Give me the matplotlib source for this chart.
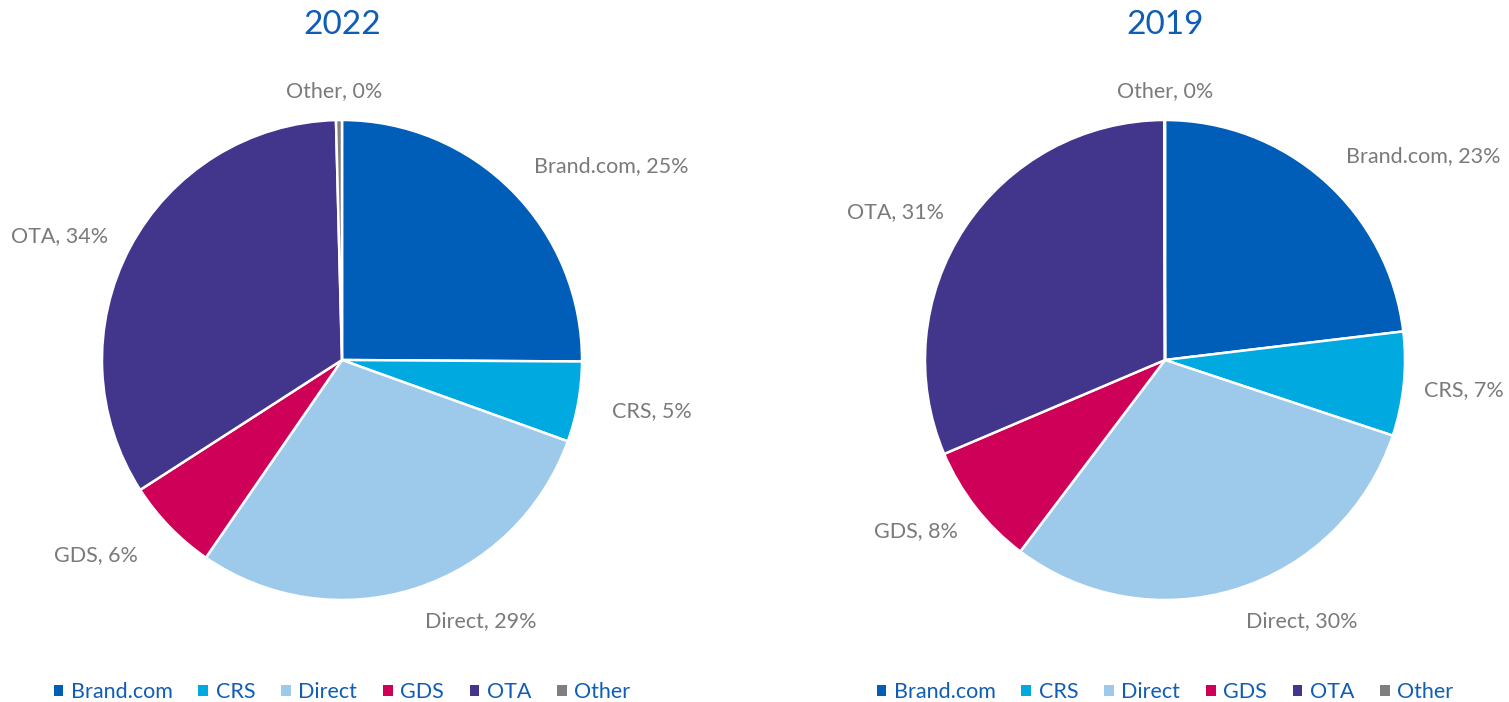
import matplotlib
matplotlib.use("Agg")
import matplotlib.pyplot as plt
from matplotlib.patches import Patch

plt.rcParams['font.family'] = ['Lato', 'DejaVu Sans']

channels = ["Brand.com", "CRS", "Direct", "GDS", "OTA", "Other"]
share_2022 = [25.1, 5.4, 29.1, 6.3, 33.7, 0.4]
share_2019 = [23.1, 7.0, 30.2, 8.3, 31.35, 0.05]
labels_2022 = ["25%", "5%", "29%", "6%", "34%", "0%"]
labels_2019 = ["23%", "7%", "30%", "8%", "31%", "0%"]

colors = ["#005EB8", "#00A9E0", "#9DC9EA", "#CE0058", "#41358C", "#7F7F7F"]
label_col = "#7A7A7A"
blue_txt = "#0F5DB5"

# label centres (in pie radius units), like Excel's best fit placement
pos_2022 = [(1.121, 0.808), (1.292, -0.213), (0.579, -1.0875),
            (-1.025, -0.8125), (-1.175, 0.517), (-0.033, 1.121)]
pos_2019 = [(1.075, 0.85), (1.245, -0.125), (0.571, -1.0875),
            (-1.0375, -0.7125), (-1.121, 0.617), (0.0, 1.121)]

W, H = 1509, 702
fig = plt.figure(figsize=(W / 100, H / 100), dpi=100)


def draw(cx, cy, vals, pcts, pos, title):
    r = 240
    ax = fig.add_axes([(cx - r) / W, (H - cy - r) / H, 2 * r / W, 2 * r / H])
    wedges, _ = ax.pie(vals, colors=colors, startangle=90, counterclock=False,
                       wedgeprops=dict(edgecolor="white", linewidth=1.8))
    for name, p, (x, y) in zip(channels, pcts, pos):
        ax.text(x, y, "%s, %s" % (name, p), ha="center", va="center",
                fontsize=15.5, color=label_col)
    ax.set_xlim(-1, 1)
    ax.set_ylim(-1, 1)
    ax.set_aspect("equal")
    ax.axis("off")
    fig.text(cx / W, 1 - 25 / H, title, ha="center", va="center",
             fontsize=24, color=blue_txt)
    handles = [Patch(facecolor=c) for c in colors]
    fig.legend(handles, channels, loc="center", bbox_to_anchor=(cx / W, 1 - 692 / H),
               ncol=6, frameon=False, fontsize=15.5, labelcolor=blue_txt,
               handlelength=0.45, handleheight=0.45, handletextpad=0.35,
               columnspacing=1.2, borderpad=0, borderaxespad=0)


draw(342, 360, share_2022, labels_2022, pos_2022, "2022")
draw(1165, 360, share_2019, labels_2019, pos_2019, "2019")

fig.savefig("out.png", dpi=100)
